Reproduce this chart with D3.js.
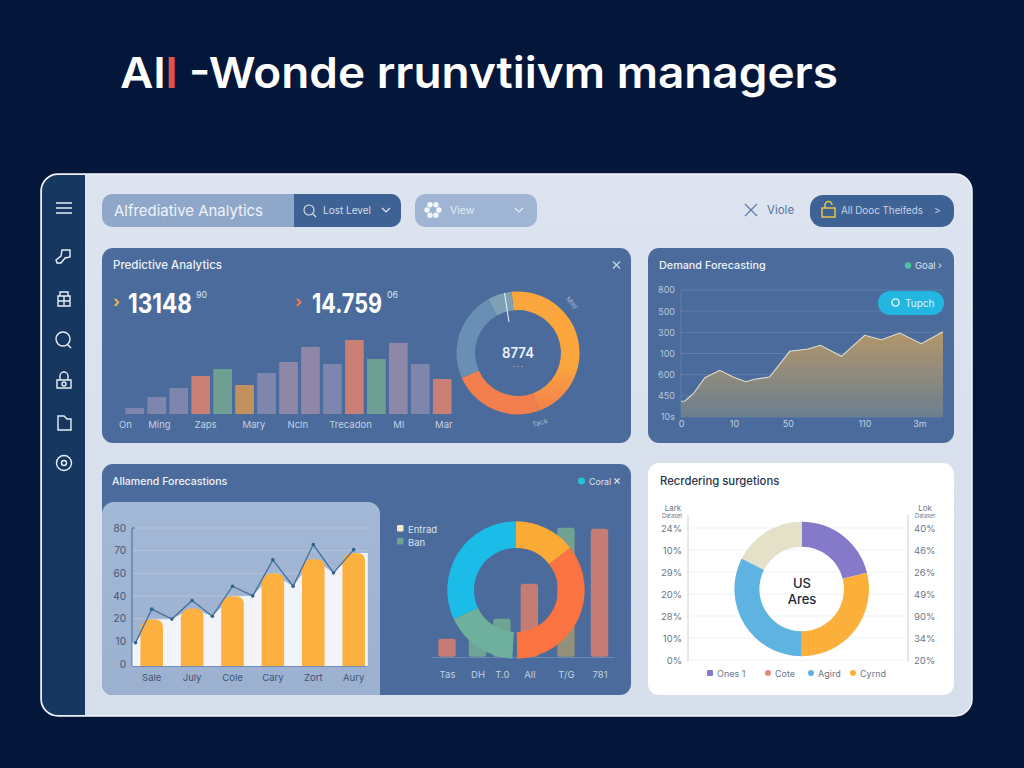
<!DOCTYPE html>
<html>
<head>
<meta charset="utf-8">
<script src="https://cdn.jsdelivr.net/npm/d3@7"></script>
<style>
  html, body { margin: 0; padding: 0; background: #04163a; }
  svg { display: block; }
  text { font-family: "Inter", "Liberation Sans", sans-serif; }
</style>
</head>
<body>
<svg id="chart" width="1024" height="768"></svg>
<script>
// Predictive Analytics panel
const predictiveValues = [6, 17, 26, 38, 45, 29, 41, 52, 67, 50, 74, 55, 71, 50, 35];
const predictiveTickLabels = ['On', 'Ming', 'Zaps', 'Mary', 'Ncln', 'Trecadon', 'Ml', 'Mar'];
const predictiveTickStops = [-0.45, 1.1, 3.2, 5.4, 7.4, 9.8, 12, 14.05];
const predictiveSlices = [166, 86, 85, 23];

// Demand Forecasting panel
const demandX = [0, 1.5, 4.7, 9.1, 14.8, 19.9, 24.7, 28.1, 33.8, 41.5, 48.5, 53.2, 61.2, 70.1, 76.5, 83.5, 91.7, 100];
const demandY = [15.7, 16, 23.3, 39.3, 46.7, 40, 35.3, 37.7, 40, 65.7, 68, 71.7, 60.7, 81.7, 77.3, 84, 73.3, 85.3];
const demandYLabels = ['800', '500', '300', '100', '600', '450', '10s'];
const demandXLabels = ['0', '10', '50', '110', '3m'];
const demandXStops = [0, 20.2, 40.8, 70, 91];

// Allamend Forecastions panel, left chart
const forecastSteps = [0.2, 1, 2, 3, 4, 5, 6, 7, 8, 9, 10, 11];
const forecastLine = [16.9, 41.2, 34, 47.5, 36.1, 57.8, 50.8, 76.9, 57.8, 88, 67.5, 84.3];
const forecastBars = [33.7, 41.7, 50.6, 67, 77.3, 81.9];
const forecastMonths = ['Sale', 'July', 'Cole', 'Cary', 'Zort', 'Aury'];
const forecastYLabels = ['80', '70', '60', '40', '20', '10', '0'];

// Allamend Forecastions panel, right chart
const mixLabels = ['Tas', 'DH', 'T.0', 'All', 'T/G', '781'];
const mixSlots = [0, 1, 1.8, 2.7, 3.9, 5];
const mixValues = [18, 28, 38, 73, 129, 128];
const mixSlices = [52, 127, 4, 62, 115];

// Recordering panel
const reorderSlices = [76, 104, 117, 63];
const reorderLeftLabels = ['24%', '10%', '29%', '20%', '28%', '10%', '0%'];
const reorderRightLabels = ['40%', '46%', '26%', '49%', '90%', '34%', '20%'];
const reorderLegend = ['Ones 1', 'Cote', 'Agird', 'Cyrnd'];

// colours
const barPurple = '#7f86ae', barMauve = '#8f87a8', barRed = '#c97f73', barGreen = '#6f9f92', barTan = '#c2915f';
const predictiveColors = [barPurple, barPurple, barPurple, barRed, barGreen, barTan, barPurple, barMauve,
  barMauve, barPurple, barRed, barGreen, barMauve, barPurple, barRed];
const panelBlue = '#4a6b9b';

const svg = d3.select('#chart');
const defs = svg.append('defs');

function vGradient(id, top, bottom, mid) {
  const g = defs.append('linearGradient').attr('id', id)
    .attr('x1', 0).attr('x2', 0).attr('y1', 0).attr('y2', 1);
  g.append('stop').attr('offset', '0%').attr('stop-color', top);
  if (mid) g.append('stop').attr('offset', mid).attr('stop-color', top);
  g.append('stop').attr('offset', '100%').attr('stop-color', bottom);
}
vGradient('demand-fill', '#b3966a', '#6b7f8f');
vGradient('orange-arc', '#fba63c', '#f37f4e', '62%');
vGradient('tan-bar', '#6fa394', '#948f78');
vGradient('inner-fill', '#a3b8d6', '#9cb0cf');
vGradient('shell-fill', '#dde4f0', '#d6deeb');

function label(g, x, y, str, size, color, opts = {}) {
  const t = g.append('text')
    .attr('x', x).attr('y', y)
    .attr('font-size', size)
    .attr('fill', color)
    .attr('text-anchor', opts.anchor || 'start')
    .attr('font-weight', opts.weight || 400)
    .attr('opacity', opts.opacity === undefined ? 1 : opts.opacity)
    .text(str);
  if (opts.fit) t.attr('textLength', opts.fit).attr('lengthAdjust', 'spacingAndGlyphs');
  return t;
}

// condensed number: squeezed horizontally to the given width
function squeezed(g, x, y, str, size, width) {
  const t = g.append('text')
    .attr('font-size', size).attr('font-weight', 700).attr('fill', '#ffffff')
    .text(str);
  const sx = width / t.node().getComputedTextLength();
  t.attr('transform', `translate(${x},${y}) scale(${sx},1)`);
  return t;
}

function chevron(g, x, y, color) {
  g.append('path').attr('d', `M${x - 4},${y - 2}L${x},${y + 2}L${x + 4},${y - 2}`)
    .attr('fill', 'none').attr('stroke', color).attr('stroke-width', 1.2);
}

function cross(g, x, y, r, color) {
  g.append('path').attr('d', `M${x - r},${y - r}L${x + r},${y + r}M${x + r},${y - r}L${x - r},${y + r}`)
    .attr('fill', 'none').attr('stroke', color).attr('stroke-width', 1.2);
}

// styles a d3 axis: tick text only, no domain
function styleAxis(g, size, color) {
  g.select('.domain').remove();
  g.selectAll('.tick line').remove();
  g.selectAll('.tick text').attr('font-size', size).attr('fill', color)
    .style('font-family', '"Inter", "Liberation Sans", sans-serif');
}

// Title
const title = svg.append('text').attr('x', 120).attr('y', 88)
  .attr('font-size', 43).attr('font-weight', 600).attr('fill', '#ffffff')
  .attr('textLength', 718).attr('lengthAdjust', 'spacingAndGlyphs');
title.append('tspan').text('Al');
title.append('tspan').attr('fill', '#e0524f').text('l');
title.append('tspan').text(' -Wonde rrunvtiivm managers');

// Dashboard shell
svg.append('rect').attr('x', 41).attr('y', 174).attr('width', 931).attr('height', 542).attr('rx', 17)
  .attr('fill', 'url(#shell-fill)').attr('stroke', '#f2f5fa').attr('stroke-width', 1.5);
svg.append('path')
  .attr('d', 'M85,175H58A16,16 0 0 0 42,191V699A16,16 0 0 0 58,715H85Z')
  .attr('fill', '#16375f');

// Sidebar icons
const side = svg.append('g').attr('fill', 'none').attr('stroke', '#e8eef6').attr('stroke-width', 1.4);
side.append('path').attr('d', 'M56,203H72M56,208H72M56,213H72').attr('stroke-width', 1.6);
side.append('path').attr('d', 'M62,250h8v7l-5,1l-4,5h-4l-1,-3l5,-4z');
side.append('path').attr('d', 'M58,296h12v10h-12zM60,296v-4h8v4M58,301h12M64,296v10');
side.append('circle').attr('cx', 63).attr('cy', 339).attr('r', 7);
side.append('path').attr('d', 'M67,344l4,4');
side.append('path').attr('d', 'M57,380h14v8h-14zM60,380v-4a4,4 0 0 1 8,0v4');
side.append('circle').attr('cx', 64).attr('cy', 384).attr('r', 2);
side.append('path').attr('d', 'M58,416h6l3,3h4v11h-13z');
side.append('circle').attr('cx', 64).attr('cy', 463).attr('r', 7.5);
side.append('circle').attr('cx', 64).attr('cy', 463).attr('r', 2.5);

// Top controls
const top_ = svg.append('g');
top_.append('rect').attr('x', 102).attr('y', 194).attr('width', 299).attr('height', 33).attr('rx', 10).attr('fill', '#8fa7c9');
top_.append('path').attr('d', 'M294,194H391A10,10 0 0 1 401,204V217A10,10 0 0 1 391,227H294Z').attr('fill', '#3f6294');
label(top_, 114, 216, 'Alfrediative Analytics', 15, '#f0f4fa', { fit: 149 });
top_.append('circle').attr('cx', 309).attr('cy', 210).attr('r', 5).attr('fill', 'none').attr('stroke', '#dfe7f2').attr('stroke-width', 1.1);
top_.append('path').attr('d', 'M313,214l3,3').attr('stroke', '#dfe7f2').attr('stroke-width', 1.1);
label(top_, 323, 214, 'Lost Level', 10, '#d5deeb');
chevron(top_, 386, 210, '#dfe7f2');

top_.append('rect').attr('x', 415).attr('y', 194).attr('width', 122).attr('height', 33).attr('rx', 10).attr('fill', '#a0b5d3');
d3.range(6).forEach(i => {
  const a = i * Math.PI / 3;
  top_.append('circle').attr('cx', 433 + 6 * Math.cos(a)).attr('cy', 210 + 6 * Math.sin(a)).attr('r', 2.7).attr('fill', '#f4f7fb');
});
label(top_, 450, 214, 'View', 10.5, '#e6ecf5');
chevron(top_, 519, 210, '#e6ecf5');

cross(top_, 751, 210, 6, '#5a7ba8');
label(top_, 767, 214, 'Viole', 11.5, '#55749f');
top_.append('rect').attr('x', 810).attr('y', 195).attr('width', 144).attr('height', 32).attr('rx', 13).attr('fill', '#3f6294');
top_.append('rect').attr('x', 822).attr('y', 208).attr('width', 13).attr('height', 9).attr('fill', 'none').attr('stroke', '#e6c548').attr('stroke-width', 1.5);
top_.append('path').attr('d', 'M825,208v-3a3.5,3.5 0 0 1 7,0').attr('fill', 'none').attr('stroke', '#e6c548').attr('stroke-width', 1.5);
label(top_, 841, 214, 'All Dooc Theifeds', 10, '#c6d3e5', { fit: 82 });
label(top_, 934, 214, '>', 10, '#c6d3e5');

// Panels
[[102, 248, 529, 195], [648, 248, 306, 195], [102, 464, 529, 231]].forEach(p => {
  svg.append('rect').attr('x', p[0]).attr('y', p[1]).attr('width', p[2]).attr('height', p[3]).attr('rx', 11).attr('fill', panelBlue);
});
svg.append('rect').attr('x', 648).attr('y', 463).attr('width', 306).attr('height', 232).attr('rx', 11).attr('fill', '#ffffff');

// ---- Predictive Analytics ----
const p1 = svg.append('g');
label(p1, 113, 269, 'Predictive Analytics', 11.5, '#eef2f8', { weight: 500 });
cross(p1, 616.5, 265, 3.5, '#cdd8e8');
label(p1, 113, 307, '›', 16, '#e8b94a', { weight: 700 });
squeezed(p1, 128, 313, '13148', 27, 64);
label(p1, 196, 298, '90', 8.5, '#dbe3ef', { fit: 11 });
label(p1, 295, 307, '›', 16, '#ee7f45', { weight: 700 });
squeezed(p1, 312, 313, '14.759', 27, 70);
label(p1, 387, 298, '06', 8.5, '#dbe3ef', { fit: 11 });

const pX = d3.scaleBand().domain(d3.range(predictiveValues.length)).range([125, 452]).paddingInner(0.15).paddingOuter(0.02);
const pY = d3.scaleLinear().domain([0, 80]).range([414, 334]);
p1.selectAll('rect.bar').data(predictiveValues).join('rect').attr('class', 'bar')
  .attr('x', (d, i) => pX(i))
  .attr('y', d => pY(d))
  .attr('width', pX.bandwidth())
  .attr('height', d => pY(0) - pY(d))
  .attr('fill', (d, i) => predictiveColors[i]);

const pTick = d3.scaleLinear().domain([0, 14]).range([pX(0) + pX.bandwidth() / 2, pX(14) + pX.bandwidth() / 2]);
const pAxis = p1.append('g').attr('transform', 'translate(0,419)')
  .call(d3.axisBottom(pTick).tickValues(predictiveTickStops).tickSize(0).tickPadding(2)
    .tickFormat((d, i) => predictiveTickLabels[i]));
styleAxis(pAxis, 9.5, '#c3d0e2');

function ring(g, cx, cy, rOuter, rInner, values, colors, startDeg) {
  const pie = d3.pie().sort(null)
    .startAngle(startDeg * Math.PI / 180)
    .endAngle((startDeg + 360) * Math.PI / 180);
  const arc = d3.arc().innerRadius(rInner).outerRadius(rOuter);
  g.append('g').attr('transform', `translate(${cx},${cy})`)
    .selectAll('path').data(pie(values)).join('path')
    .attr('d', arc)
    .attr('fill', (d, i) => colors[i]);
}
ring(p1, 518, 353, 61.5, 43, predictiveSlices, ['url(#orange-arc)', '#f37f4e', '#6a8fb4', '#7ea1b6'], -6);
p1.append('line').attr('x1', 504.5).attr('y1', 293).attr('x2', 509).attr('y2', 322).attr('stroke', '#f2f5f9').attr('stroke-width', 1);
label(p1, 518, 358, '8774', 14, '#eef2f8', { anchor: 'middle', weight: 600, fit: 32 });
label(p1, 518, 369, '· · ·', 7, '#dbe3ef', { anchor: 'middle' });
label(p1, 572, 305, 'May', 7, '#a9bad2', { anchor: 'middle' }).attr('transform', 'rotate(45 572 303)');
label(p1, 540, 425, 'Tack', 7, '#a9bad2', { anchor: 'middle' }).attr('transform', 'rotate(-15 540 423)');

// ---- Demand Forecasting ----
const p2 = svg.append('g');
label(p2, 659, 269, 'Demand Forecasting', 10.8, '#eef2f8', { weight: 500 });
p2.append('circle').attr('cx', 908).attr('cy', 265.5).attr('r', 3.2).attr('fill', '#4cc2a6');
label(p2, 915, 269, 'Goal', 9.5, '#dbe3ef');
label(p2, 938, 269, '›', 10, '#dbe3ef');

const dX = d3.scaleLinear().domain([0, 100]).range([681, 943]);
const dY = d3.scaleLinear().domain([0, 127]).range([417, 290]);
const dGridY = d3.scalePoint().domain(d3.range(demandYLabels.length)).range([290, 417]);
p2.selectAll('line.grid').data(d3.range(demandYLabels.length)).join('line').attr('class', 'grid')
  .attr('x1', 681).attr('x2', 943)
  .attr('y1', d => dGridY(d)).attr('y2', d => dGridY(d))
  .attr('stroke', '#7f9bc2').attr('stroke-opacity', 0.4);
p2.append('line').attr('x1', 681).attr('x2', 681).attr('y1', 290).attr('y2', 417).attr('stroke', '#7f9bc2').attr('stroke-opacity', 0.4);

const dPoints = demandX.map((x, i) => [x, demandY[i]]);
p2.append('path').datum(dPoints)
  .attr('d', d3.area().x(d => dX(d[0])).y0(dY(0)).y1(d => dY(d[1])))
  .attr('fill', 'url(#demand-fill)');
p2.append('path').datum(dPoints)
  .attr('d', d3.line().x(d => dX(d[0])).y(d => dY(d[1])))
  .attr('fill', 'none').attr('stroke', '#e2dfcf').attr('stroke-width', 1.1);

const dYAxis = p2.append('g').attr('transform', 'translate(675,0)')
  .call(d3.axisLeft(dGridY).tickSize(0).tickPadding(0).tickFormat(i => demandYLabels[i]));
styleAxis(dYAxis, 9, '#b9c8dd');
const dXAxis = p2.append('g').attr('transform', 'translate(0,419)')
  .call(d3.axisBottom(dX).tickValues(demandXStops).tickSize(0).tickPadding(2).tickFormat((d, i) => demandXLabels[i]));
styleAxis(dXAxis, 9, '#c3d0e2');

p2.append('rect').attr('x', 878).attr('y', 291).attr('width', 66).attr('height', 24).attr('rx', 12).attr('fill', '#22b6e0');
p2.append('circle').attr('cx', 895.5).attr('cy', 302.5).attr('r', 3.6).attr('fill', 'none').attr('stroke', '#f0f8fc').attr('stroke-width', 1.4);
label(p2, 905, 306.5, 'Tupch', 10, '#dff3fa');

// ---- Allamend Forecastions ----
const p3 = svg.append('g');
label(p3, 112, 485, 'Allamend Forecastions', 10.6, '#eef2f8', { weight: 500 });
p3.append('circle').attr('cx', 581.5).attr('cy', 481).attr('r', 3.5).attr('fill', '#27c4d8');
label(p3, 589, 485, 'Coral', 9, '#dbe3ef', { fit: 22 });
cross(p3, 617, 481, 2.5, '#dbe3ef');

p3.append('path').attr('d', 'M102,514A12,12 0 0 1 114,502H368A12,12 0 0 1 380,514V695H113A11,11 0 0 1 102,684Z')
  .attr('fill', 'url(#inner-fill)');

const fX = d3.scaleLinear().domain([1, 11]).range([151.7, 353.7]);
const fY = d3.scaleLinear().domain([0, 100]).range([666, 528]);
const fTick = d3.scalePoint().domain(d3.range(forecastYLabels.length)).range([528, 664]);

p3.selectAll('line.fgrid').data(d3.range(forecastYLabels.length - 1)).join('line').attr('class', 'fgrid')
  .attr('x1', 133).attr('x2', 367)
  .attr('y1', d => fTick(d)).attr('y2', d => fTick(d))
  .attr('stroke', '#b7c7de').attr('stroke-opacity', 0.8);
p3.append('path').attr('d', 'M135,528H132V666H367').attr('fill', 'none').attr('stroke', '#4c6b96').attr('stroke-width', 1);

// white backdrop runs through bar tops and the line's low points
const backdrop = forecastLine.map((v, i) => [forecastSteps[i], i % 2 ? forecastBars[(i - 1) / 2] : v]);
const backdropAll = [[0.05, forecastLine[0]], ...backdrop, [11.7, forecastBars[5]]];
p3.append('path').datum(backdropAll)
  .attr('d', d3.area().x(d => fX(d[0])).y0(fY(0)).y1(d => fY(d[1])))
  .attr('fill', '#f2f4f9');

forecastBars.forEach((v, i) => {
  const cx = fX(i * 2 + 1), w = 22.5, t = fY(v), b = fY(0);
  p3.append('path')
    .attr('d', `M${cx - w / 2},${b}V${t + 9}Q${cx - w / 2 + 2},${t} ${cx - 2},${t}H${cx + 3}Q${cx + w / 2},${t} ${cx + w / 2},${t + 8}V${b}Z`)
    .attr('fill', '#fbb03f');
});

p3.append('path').datum(forecastLine)
  .attr('d', d3.line().x((d, i) => fX(forecastSteps[i])).y(d => fY(d)))
  .attr('fill', 'none').attr('stroke', '#44709b').attr('stroke-width', 1.3);
p3.selectAll('circle.fpt').data(forecastLine).join('circle').attr('class', 'fpt')
  .attr('cx', (d, i) => fX(forecastSteps[i])).attr('cy', d => fY(d)).attr('r', 1.8).attr('fill', '#2f628f');

const fYAxis = p3.append('g').attr('transform', 'translate(126,0)')
  .call(d3.axisLeft(fTick).tickSize(0).tickPadding(0).tickFormat(i => forecastYLabels[i]));
styleAxis(fYAxis, 10, '#3f5676');
forecastMonths.forEach((m, i) => {
  label(p3, fX(i * 2 + 1), 681, m, 9.5, '#3f5676', { anchor: 'middle' });
});

// right chart
p3.append('rect').attr('x', 397).attr('y', 525).attr('width', 6.5).attr('height', 6.5).attr('rx', 1).attr('fill', '#f0ecc8');
label(p3, 408, 533, 'Entrad', 9.5, '#dbe3ef');
p3.append('rect').attr('x', 397).attr('y', 538).attr('width', 6.5).attr('height', 6.5).attr('rx', 1).attr('fill', '#6fa394');
label(p3, 408, 546, 'Ban', 9.5, '#dbe3ef');

const mX = d3.scaleLinear().domain([0, 5]).range([447, 599.5]);
const mY = d3.scaleLinear().domain([0, 140]).range([656.7, 516.7]);
const mColors = ['#c47c75', '#6fa394', '#6fa394', '#c47c75', 'url(#tan-bar)', '#c47c75'];
p3.append('line').attr('x1', 432).attr('x2', 615).attr('y1', 657.5).attr('y2', 657.5).attr('stroke', '#6b88b1');
p3.selectAll('rect.mix').data(mixValues).join('rect').attr('class', 'mix')
  .attr('x', (d, i) => mX(mixSlots[i]) - 8.7)
  .attr('y', d => mY(d))
  .attr('width', 17.4)
  .attr('height', d => mY(0) - mY(d))
  .attr('rx', 2.5)
  .attr('fill', (d, i) => mColors[i]);
[30, 18].forEach(r => {
  p3.append('circle').attr('cx', 516).attr('cy', 590).attr('r', r).attr('fill', 'none').attr('stroke', '#ffffff').attr('stroke-opacity', 0.03);
});
ring(p3, 516, 590, 68.7, 42, mixSlices, ['#fbab35', '#fc7342', 'none', '#6fb09d', '#1cbce8'], 0);
const mAxis = p3.append('g').attr('transform', 'translate(0,671)')
  .call(d3.axisBottom(mX).tickValues(mixSlots).tickSize(0).tickPadding(0).tickFormat((d, i) => mixLabels[i]));
styleAxis(mAxis, 9.5, '#c3d0e2');

// ---- Recordering suggestions ----
const p4 = svg.append('g');
label(p4, 660, 485, 'Recrdering surgetions', 11.3, '#27364e', { weight: 500 });

const rTick = d3.scalePoint().domain(d3.range(reorderLeftLabels.length)).range([528, 660]);
p4.selectAll('line.rgrid').data(d3.range(reorderLeftLabels.length)).join('line').attr('class', 'rgrid')
  .attr('x1', 690).attr('x2', 905)
  .attr('y1', d => rTick(d)).attr('y2', d => rTick(d))
  .attr('stroke', '#eef1f5');
p4.append('line').attr('x1', 688).attr('x2', 688).attr('y1', 515).attr('y2', 662).attr('stroke', '#c9ced6');
p4.append('line').attr('x1', 908).attr('x2', 908).attr('y1', 515).attr('y2', 662).attr('stroke', '#c9ced6');

const rLeft = p4.append('g').attr('transform', 'translate(682,0)')
  .call(d3.axisLeft(rTick).tickSize(0).tickPadding(0).tickFormat(i => reorderLeftLabels[i]));
styleAxis(rLeft, 9.5, '#6a7688');
const rRight = p4.append('g').attr('transform', 'translate(914,0)')
  .call(d3.axisRight(rTick).tickSize(0).tickPadding(0).tickFormat(i => reorderRightLabels[i]));
styleAxis(rRight, 9.5, '#6a7688');
label(p4, 673, 511, 'Lark', 8, '#6a7688', { anchor: 'middle' });
label(p4, 672, 518, 'Dataset', 5.5, '#6a7688', { anchor: 'middle' });
label(p4, 925, 511, 'Lok', 8, '#6a7688', { anchor: 'middle' });
label(p4, 925, 518, 'Dataset', 5.5, '#6a7688', { anchor: 'middle' });

ring(p4, 801.7, 589, 67.3, 42.3, reorderSlices, ['#8579c9', '#fbb03b', '#5eb3e0', '#e5e0c8'], 0);
label(p4, 802, 588, 'US', 13, '#1e2a3c', { anchor: 'middle', weight: 500 });
label(p4, 802, 604, 'Ares', 13, '#1e2a3c', { anchor: 'middle', weight: 500 });

const legendColors = ['#8579c9', '#e58a7a', '#5eb3e0', '#fbb03b'];
const legendStops = [710, 768, 811, 853];
reorderLegend.forEach((name, i) => {
  const x = legendStops[i];
  if (i === 0) {
    p4.append('rect').attr('x', x - 3).attr('y', 670).attr('width', 6).attr('height', 6).attr('rx', 1).attr('fill', legendColors[i]);
  } else {
    p4.append('circle').attr('cx', x).attr('cy', 673).attr('r', 3).attr('fill', legendColors[i]);
  }
  label(p4, x + 7, 677, name, 9, '#6a7688');
});
</script>
</body>
</html>
